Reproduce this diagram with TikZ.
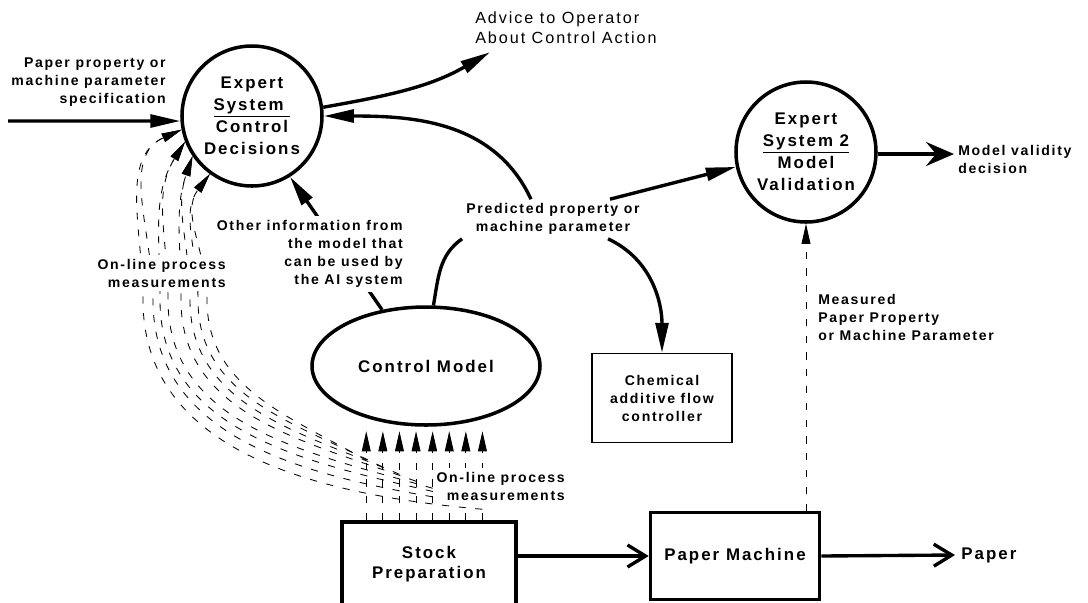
\documentclass[tikz,border=0pt]{standalone}
\usepackage{fontspec}
\setmainfont{Liberation Sans}[LetterSpace=12]
\usetikzlibrary{arrows.meta,shapes.geometric,calc}

\begin{document}
\begin{tikzpicture}[x=0.25mm,y=-0.25mm,
  note/.style={inner sep=1mm,font=\fontsize{10}{12.8}\selectfont\bfseries},
  expert/.style={circle,draw,line width=2.5pt,minimum size=35mm,inner sep=0pt,align=center,font=\fontsize{12}{15.6}\selectfont\bfseries},
  plant/.style={rectangle,draw,line width=2.5pt,align=center,font=\fontsize{12}{14.4}\selectfont\bfseries},
  wire/.style={line width=2.4pt},
  flow/.style={wire,-{Triangle[length=7.5mm,width=3.2mm]}},
  feed/.style={wire,-{Straight Barb[length=4.5mm,width=5.5mm]}},
  sensor/.style={line width=0.6pt,dash pattern=on 1.8mm off 2.4mm,-{Triangle[length=5mm,width=2.2mm]}}]
  \useasboundingbox (0,0) rectangle (1088,602);
  \clip (0,0) rectangle (1088,602);

  \node[expert] (es1) at (252,116) {Expert\\\underline{System~}\\Control\\Decisions};
  \node[expert] (es2) at (806,152) {Expert\\\underline{System 2}\\Model\\Validation};
  \node[ellipse,draw,line width=2.5pt,minimum width=57mm,minimum height=29.5mm,font=\fontsize{12}{14.4}\selectfont\bfseries] (cm) at (426,366) {Control Model};
  \node[draw,line width=0.9pt,minimum width=35mm,minimum height=22.25mm,align=center,note] (chem) at (662,398) {Chemical\\additive flow\\controller};
  \node[plant,minimum width=43.5mm,minimum height=21mm] (sp) at (429,564) {Stock\\Preparation};
  \node[plant,minimum width=42.25mm,minimum height=21.75mm] (pm) at (735,556) {Paper Machine};

  \node[note,anchor=east,align=right] (spec) at (170,82) {Paper property or\\machine parameter\\specification};
  \node[note,anchor=west,align=left,font=\fontsize{11.5}{14.2}\selectfont] (advice) at (471,28) {Advice to Operator\\About Control Action};
  \node[note,align=center] (pred) at (553,219) {Predicted property or\\machine parameter};
  \node[note,anchor=west,align=left] (validity) at (954,159) {Model validity\\decision};
  \node[note,anchor=west,align=left] (measured) at (814,317) {Measured\\Paper Property\\or Machine Parameter};
  \node[plant,draw=none,anchor=west] (paper) at (955,555) {Paper};
  \coordinate (spec-in) at (8,121);

  \draw[flow] (cm.128) -- (es1.-58);
  \node[note,anchor=east,align=right,fill=white] (other) at (407,254) {Other information from\\the model that\\can be used by\\the AI system};

  \foreach \i in {0,...,7}{
    \coordinate (col\i) at ($(sp.north west)+(26+16.6*\i,0)$);
    \draw[sensor] (col\i) -- ++(0,-89);
  }
  \foreach \i/\o/\m/\tip/\ang in {0/150/207/234/-127, 1/153/198/234/-127, 2/157/190/214/-109, 3/160/181/214/-109,
                                   4/164/168/201/-122, 5/167/160/201/-122, 6/171/153/191/-156, 7/175/143/191/-156}
    \draw[sensor] ($(col\i)+(0,-60+7*\i)$) to[out=\o,in=-90] (\m,300) to[out=90,in=\ang] (es1.\tip);
  \node[note,anchor=east,align=right,fill=white] (online-l) at (230,273) {On-line process\\measurements};
  \node[note,anchor=east,align=right,fill=white] (online-r) at (569,486) {On-line process\\measurements};

  \draw[flow] (spec-in) -- (es1.184);
  \draw[flow] (es1.7) to[out=10,in=210] ($(advice.south west)+(19,4)$);
  \draw[wire] (cm.83) to[out=80,in=215] (pred.south west);
  \draw[flow] ($(pred.north)+(-22,0)$) to[out=115,in=0] (es1.0);
  \draw[flow] ($(pred.north)+(57,0)$) -- (es2.192);
  \draw[flow] ($(pred.south)+(55,0)$) to[out=-25,in=90] (chem.north);
  \draw[wire,-{Stealth[length=7mm,width=6mm,inset=2.5mm]}] ($(es2.east)+(0,2)$) -- (validity.west |- {$(es2.east)+(0,2)$});
  \draw[sensor] (es2.south |- pm.north) -- (es2.south);
  \draw[feed] (sp.east |- pm.west) -- (pm.west);
  \draw[feed] (pm.east) -- (paper.west);
\end{tikzpicture}
\end{document}
